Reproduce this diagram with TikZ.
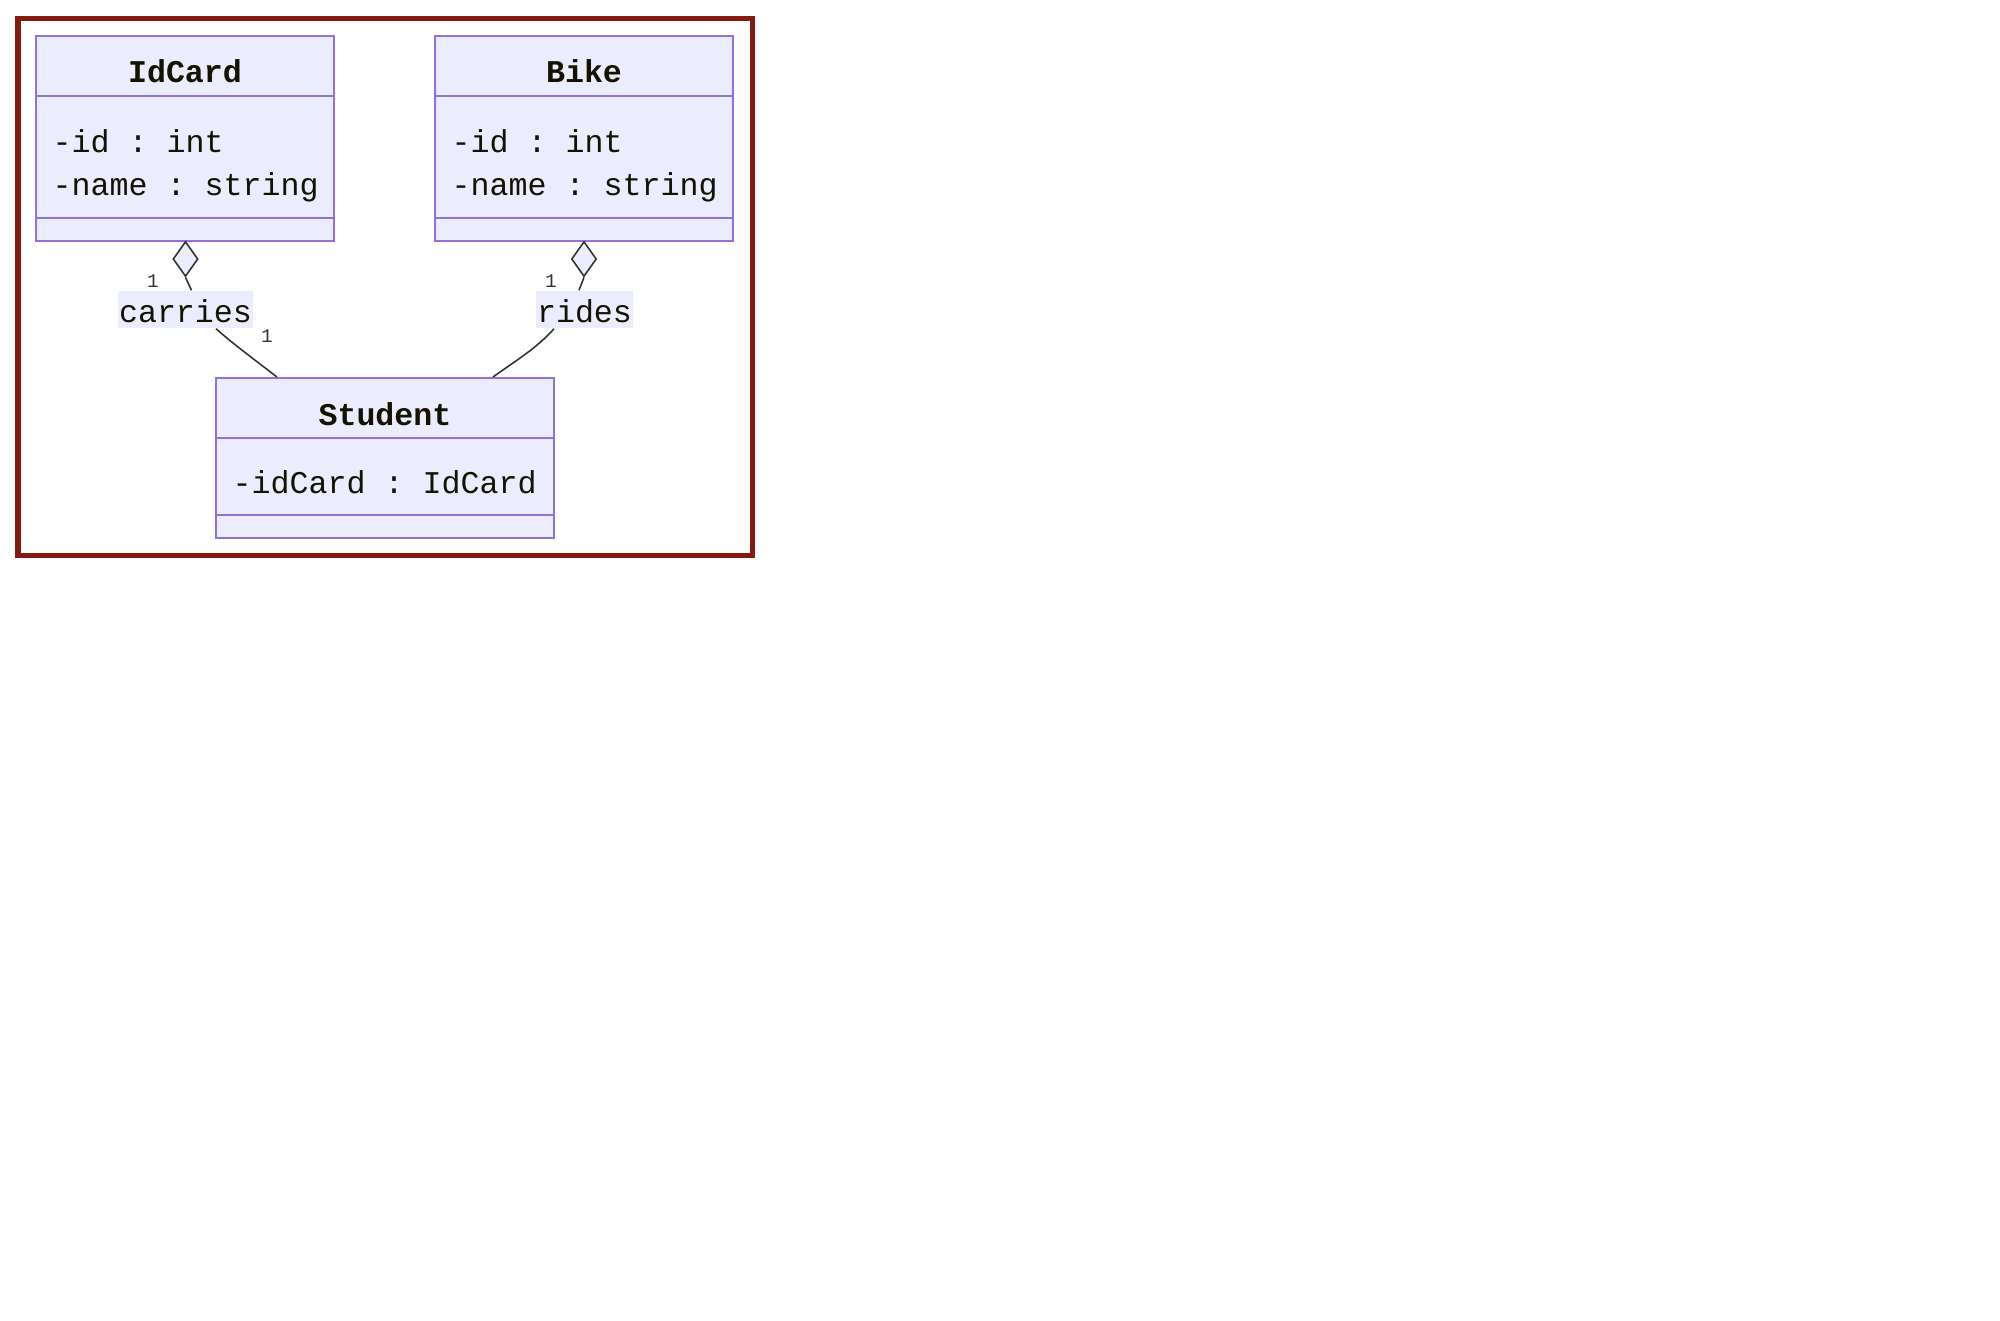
\documentclass[tikz,border=0pt]{standalone}
\usepackage{fontspec}
\setmonofont{Liberation Mono}
\usetikzlibrary{shapes.geometric,calc}
\definecolor{classfill}{HTML}{ECECFF}
\definecolor{classline}{HTML}{9370DB}
\definecolor{edgeline}{HTML}{333333}
\definecolor{framered}{HTML}{841A12}
\definecolor{ink}{HTML}{131300}
\begin{document}
\begin{tikzpicture}[x=0.01cm,y=-0.01cm,
  classbox/.style={draw=classline, fill=classfill, line width=0.55pt, rectangle, inner sep=0pt},
  divider/.style={draw=classline, line width=0.55pt},
  title/.style={font=\ttfamily\bfseries\fontsize{9}{11}\selectfont, text=ink, anchor=base, inner sep=0pt},
  member/.style={font=\ttfamily\fontsize{9}{11}\selectfont, text=ink, anchor=base west, inner sep=0pt},
  relname/.style={fill=classfill, font=\ttfamily\fontsize{9}{11}\selectfont, text=ink, inner sep=0pt, inner xsep=0.01cm, text height=0.31cm, text depth=0.06cm},
  mult/.style={font=\ttfamily\fontsize{5.5}{6}\selectfont, text=edgeline, inner sep=0pt},
  conn/.style={draw=edgeline, line width=0.45pt},
  agg/.style={diamond, draw=edgeline, fill=classfill, line width=0.45pt, minimum width=0.25cm, minimum height=0.35cm, inner sep=0pt}
]
% canvas and outer frame
\useasboundingbox (0,0) rectangle (2000,1320);
\draw[framered, line width=0.05cm] (18,18) rectangle (752,555);

% class IdCard
\node[classbox, minimum width=2.98cm, minimum height=2.05cm] (idcard) at (185,138.5) {};
\draw[divider] ($(idcard.north west)+(0,61)$) -- ($(idcard.north east)+(0,61)$);
\draw[divider] ($(idcard.north west)+(0,183)$) -- ($(idcard.north east)+(0,183)$);
\node[title] (idcardname) at (185,82) {IdCard};
\node[member] (idcardid) at (52,152) {-id : int};
\node[member] (idcardnm) at (52,195) {-name : string};

% class Bike
\node[classbox, minimum width=2.98cm, minimum height=2.05cm] (bike) at (584,138.5) {};
\draw[divider] ($(bike.north west)+(0,61)$) -- ($(bike.north east)+(0,61)$);
\draw[divider] ($(bike.north west)+(0,183)$) -- ($(bike.north east)+(0,183)$);
\node[title] (bikename) at (584,82) {Bike};
\node[member] (bikeid) at (451,152) {-id : int};
\node[member] (bikenm) at (451,195) {-name : string};

% class Student
\node[classbox, minimum width=3.38cm, minimum height=1.60cm] (student) at (385,458) {};
\draw[divider] ($(student.north west)+(0,61)$) -- ($(student.north east)+(0,61)$);
\draw[divider] ($(student.north west)+(0,138)$) -- ($(student.north east)+(0,138)$);
\node[title] (studentname) at (385,425) {Student};
\node[member] (studentcard) at (232,493) {-idCard : IdCard};

% aggregation markers
\node[agg] (aggid) at (185.5,259) {};
\node[agg] (aggbike) at (584,259) {};

% relation labels
\node[relname] (carries) at (185.5,309.5) {carries};
\node[relname] (rides) at (584.5,309.5) {rides};

% connectors
\draw[conn] (aggid.south) -- ([xshift=0.06cm]carries.north);
\draw[conn] ([xshift=0.305cm]carries.south) .. controls +(18,16) and +(-18,-14) .. ([xshift=-1.08cm]student.north);
\draw[conn] (aggbike.south) -- ([xshift=-0.055cm]rides.north);
\draw[conn] ([xshift=-0.305cm]rides.south) .. controls +(-18,20) and +(25,-18) .. ([xshift=1.08cm]student.north);

% multiplicities
\node[mult] (multid) at (153,281) {1};
\node[mult] (multbike) at (551,281) {1};
\node[mult] (multstudent) at (267,336) {1};
\end{tikzpicture}
\end{document}
